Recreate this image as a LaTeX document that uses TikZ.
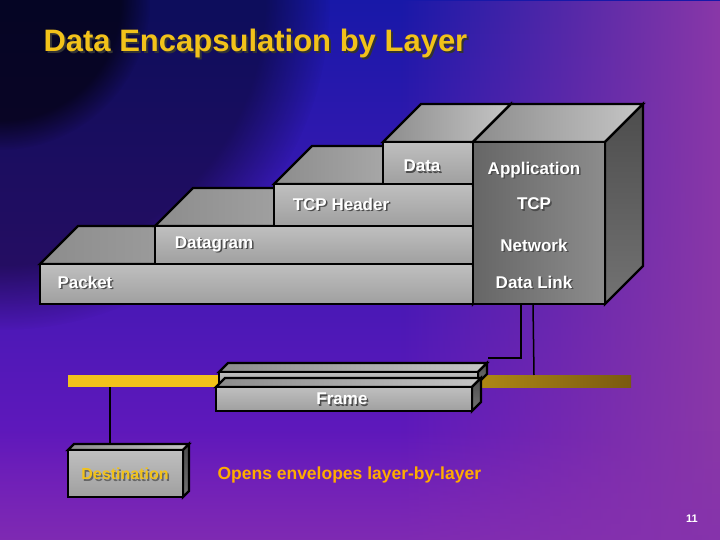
\documentclass[tikz,border=0pt]{standalone}
\usepackage{fontspec}
\setmainfont{Liberation Sans}
\usetikzlibrary{fadings}
\definecolor{gold}{HTML}{F2C21A}
\definecolor{dgold}{HTML}{7A5A10}
\definecolor{bgblue}{HTML}{1818A8}
\definecolor{bgpurple}{HTML}{7018C0}
\definecolor{bgmag}{HTML}{8A38A8}
\tikzset{
  edge/.style={draw=black,line width=2.4pt,line join=miter},
  front/.style={edge,top color=gray!50,bottom color=gray!75},
  topf/.style={edge,left color=gray!90,right color=gray!45},
  side/.style={edge,top color=black!70,bottom color=black!55},
  bigfront/.style={edge,left color=black!60,right color=black!45},
  lbl/.style={font=\bfseries\fontsize{17}{20}\selectfont,text=white},
  shd/.style={font=\bfseries\fontsize{17}{20}\selectfont,text=black!70},
  wire/.style={draw=black,line width=1.5pt}
}
\newcommand{\slab}[5]{% x1 y1 x2 y2 depth
  \path[topf] (#1,#2) -- ++(#5,-#5) -- (#3+#5,#2-#5) -- (#3,#2) -- cycle;
  \path[side] (#3,#2) -- ++(#5,-#5) -- (#3+#5,#4-#5) -- (#3,#4) -- cycle;
  \path[front] (#1,#2) rectangle (#3,#4);}
\newcommand{\shtext}[4]{% x y name text
  \node[shd] at (#1+1.5,#2+1.5) {#4};
  \node[lbl] (#3) at (#1,#2) {#4};}
\begin{document}
\begin{tikzpicture}[x=1pt,y=-1pt]
\useasboundingbox (0,0) rectangle (720,540);
\shade[top color=bgblue,bottom color=bgpurple] (0,0) rectangle (720,540);
\fill[bgmag,path fading=west] (400,0) rectangle (720,540);
\fill[bgmag!80!bgpurple,path fading=north,opacity=.7] (0,430) rectangle (720,540);
\fill[black,path fading=circle with fuzzy edge 20 percent,opacity=.45] (0,0) circle (330);
\fill[black,path fading=circle with fuzzy edge 20 percent,opacity=.6] (0,0) circle (150);
% title
\node[font=\bfseries\fontsize{31}{34}\selectfont,text=black!80,anchor=west] at (42,45) {Data Encapsulation by Layer};
\node[font=\bfseries\fontsize{31}{34}\selectfont,text=gold,anchor=west] (title) at (40,43) {Data Encapsulation by Layer};
% stacked slabs
\slab{40}{264}{473}{304}{38}
\slab{155}{226}{473}{264}{38}
\slab{274}{184}{473}{226}{38}
\slab{383}{142}{473}{184}{38}
% big box
\path[topf] (473,142) -- (511,104) -- (643,104) -- (605,142) -- cycle;
\path[side] (605,142) -- (643,104) -- (643,266) -- (605,304) -- cycle;
\path[bigfront] (473,142) rectangle (605,304);
\coordinate (stackb1) at (521,304);
\coordinate (stackb2) at (533,304);
\shtext{422}{166}{data}{Data}
\shtext{341}{204}{tcph}{TCP Header}
\shtext{214}{244}{dgram}{Datagram}
\shtext{85}{282}{pkt}{Packet}
\shtext{534}{170}{app}{Application}
\shtext{534}{204}{tcp}{TCP}
\shtext{534}{245}{net}{Network}
\shtext{534}{282}{dl}{Data Link}
% bus bar
\fill[gold] (68,375) rectangle (350,387);
\shade[left color=gold!90!black,right color=dgold] (350,375) rectangle (631,387);
\coordinate (busA) at (534,375);
\coordinate (busB) at (110,387);
% frame
\slab{219}{372}{478}{383}{9}
\slab{216}{387}{472}{411}{9}
\coordinate (frtop) at (488,358);
\node[shd] at (343.5,400.5) {Frame};
\node[lbl] (frame) at (342,399) {Frame};
% wires
\draw[wire] (stackb1) |- (frtop);
\draw[wire] (stackb2) -- (busA);
% destination
\slab{68}{450}{183}{497}{6}
\coordinate (dtop) at (110,444);
\draw[wire] (busB) -- (dtop);
\node[font=\bfseries\fontsize{16}{18}\selectfont,text=black!60] at (126.5,475.5) {Destination};
\node[font=\bfseries\fontsize{16}{18}\selectfont,text=gold] (dest) at (125,474) {Destination};
\node[font=\bfseries\fontsize{17.5}{20}\selectfont,text=orange!65!yellow,anchor=west] (opens) at (214,475) {Opens envelopes layer-by-layer};
\node[font=\bfseries\fontsize{11}{12}\selectfont,text=white] (pg) at (692,519) {11};
\end{tikzpicture}
\end{document}
